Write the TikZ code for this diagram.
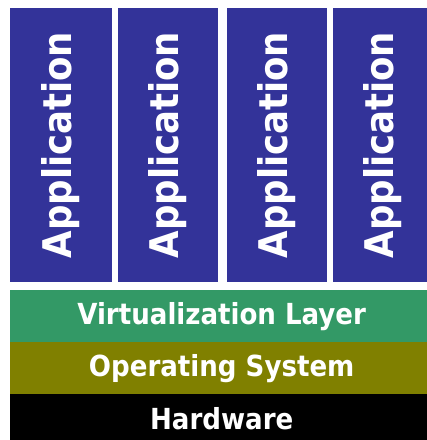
\documentclass[tikz,border=0pt]{standalone}
\usepackage{fontspec}
\setmainfont{DejaVu Sans Condensed}
\usepackage{tikz}

\definecolor{appblue}{RGB}{51,51,153}
\definecolor{virtgreen}{RGB}{51,153,102}
\definecolor{osolive}{RGB}{128,128,0}

\tikzset{
  appbox/.style={fill=appblue,text=white,draw=none,rotate=90,
    minimum width=274pt,minimum height=100pt,inner sep=0pt,
    font=\fontsize{39.5}{39.5}\selectfont\bfseries},
  layerbox/.style={draw=none,text=white,minimum width=423pt,inner sep=0pt,
    anchor=north west,font=\fontsize{29}{29}\selectfont\bfseries}
}

\begin{document}
\begin{tikzpicture}[x=1pt,y=-1pt]
\useasboundingbox (0,0) rectangle (427,440);
\clip (0,0) rectangle (427,440);
\fill[white] (0,0) rectangle (427,440);

\node[appbox,minimum height=102pt] (app1) at (61,145) {Application};
\node[appbox] (app2) at (168,145) {Application};
\node[appbox] (app3) at (277,145) {Application};
\node[appbox] (app4) at (383,145) {Application};

\node[layerbox,fill=virtgreen,minimum height=52pt] (virt) at (10,290) {Virtualization Layer};
\node[layerbox,fill=osolive,minimum height=52pt] (os) at (10,342) {Operating System};
\node[layerbox,fill=black,minimum height=48pt] (hw) at (10,394) {Hardware};
\end{tikzpicture}
\end{document}
